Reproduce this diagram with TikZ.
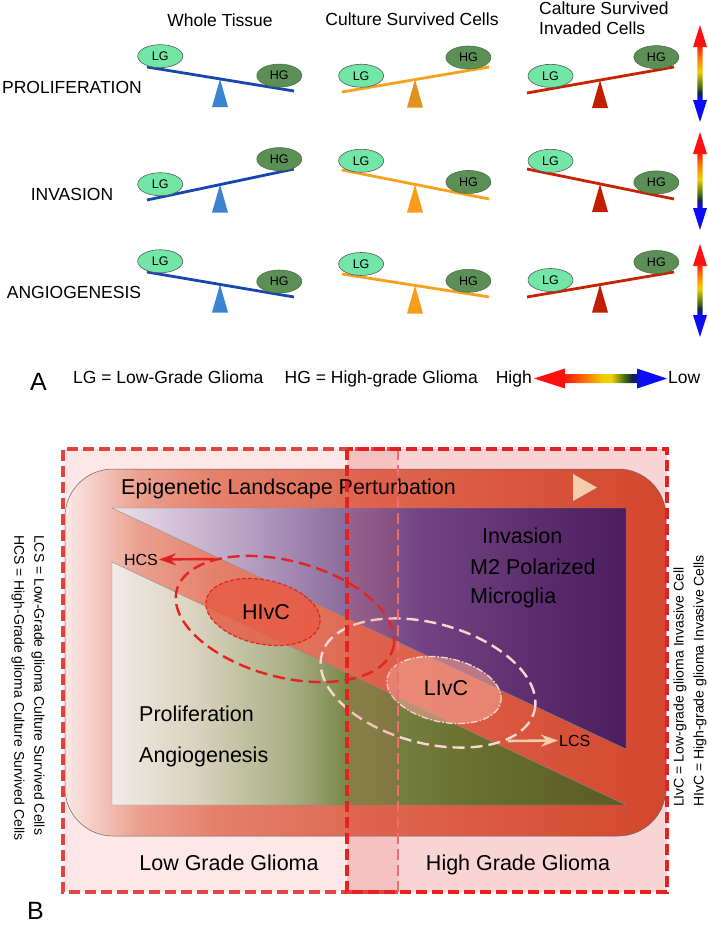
\documentclass[tikz,border=0pt]{standalone}
\usepackage{fontspec}
\setmainfont{Liberation Sans}
\usepackage{tikz}
\usetikzlibrary{positioning, arrows.meta, shapes.geometric, calc}

% panel A colours
\definecolor{lgMint}{HTML}{72E6A6}
\definecolor{hgGreen}{HTML}{5B8F55}
\definecolor{beamBlue}{HTML}{1747AE}
\definecolor{fulBlue}{HTML}{3A84D2}
\definecolor{beamOrange}{HTML}{F7A11E}
\definecolor{fulOrangeD}{HTML}{E3911F}
\definecolor{fulOrange}{HTML}{F99C19}
\definecolor{beamRed}{HTML}{C92200}
\definecolor{fulRed}{HTML}{C21F00}
\definecolor{gRed}{HTML}{FF1010}
\definecolor{gOrange}{HTML}{FF7A00}
\definecolor{gYellow}{HTML}{F2D000}
\definecolor{gGreen}{HTML}{3F6E12}
\definecolor{gDark}{HTML}{12224A}
\definecolor{gBlue}{HTML}{0C0CF5}
% panel B colours
\definecolor{lggBack}{HTML}{FDE7E7}
\definecolor{hggBack}{HTML}{F9D4D4}
\definecolor{stripRed}{HTML}{E63C3C}
\definecolor{dashRed}{HTML}{E42222}
\definecolor{dashSoft}{HTML}{E24444}
\definecolor{dashPale}{HTML}{EC6E6E}
\definecolor{epiA}{HTML}{FBE9E6}
\definecolor{epiB}{HTML}{EBA191}
\definecolor{epiC}{HTML}{E4806B}
\definecolor{epiD}{HTML}{DC6048}
\definecolor{epiE}{HTML}{D4462E}
\definecolor{purA}{HTML}{EBE0EA}
\definecolor{purB}{HTML}{B9A3C4}
\definecolor{purC}{HTML}{8C6C9C}
\definecolor{purD}{HTML}{724483}
\definecolor{purE}{HTML}{4B1C5E}
\definecolor{oliA}{HTML}{F2EAE6}
\definecolor{oliB}{HTML}{D8D2BC}
\definecolor{oliC}{HTML}{A8AE84}
\definecolor{oliD}{HTML}{7D8A4C}
\definecolor{oliE}{HTML}{68702F}
\definecolor{oliF}{HTML}{5B5A24}
\definecolor{peach}{HTML}{F4CDAE}
\definecolor{palePink}{HTML}{F9D6CE}
\definecolor{hivcFill}{HTML}{E85A44}
\definecolor{livcFill}{HTML}{F2A392}
\definecolor{arrowRed}{HTML}{E22020}

\pgfdeclareverticalshading{lowhigh}{100bp}{color(0bp)=(gBlue); color(37bp)=(gBlue); color(40bp)=(gDark); color(43bp)=(gGreen); color(51bp)=(gYellow); color(58bp)=(gOrange); color(65bp)=(gRed); color(100bp)=(gRed)}
\pgfdeclarehorizontalshading{highlow}{100bp}{color(0bp)=(gRed); color(36bp)=(gRed); color(45bp)=(gOrange); color(51bp)=(gYellow); color(54bp)=(gYellow); color(59bp)=(gGreen); color(62bp)=(gDark); color(65bp)=(gBlue); color(100bp)=(gBlue)}
\pgfdeclarehorizontalshading{epiShade}{100bp}{color(0bp)=(epiA); color(25bp)=(epiA); color(31bp)=(epiB); color(37.5bp)=(epiC); color(55bp)=(epiD); color(75bp)=(epiE); color(100bp)=(epiE)}
\pgfdeclarehorizontalshading{purpShade}{100bp}{color(0bp)=(purA); color(25bp)=(purA); color(37.5bp)=(purB); color(47.5bp)=(purC); color(55bp)=(purD); color(75bp)=(purE); color(100bp)=(purE)}
\pgfdeclarehorizontalshading{oliveShade}{100bp}{color(0bp)=(oliA); color(25bp)=(oliA); color(33.5bp)=(oliB); color(42.5bp)=(oliC); color(47.5bp)=(oliD); color(60bp)=(oliE); color(75bp)=(oliF); color(100bp)=(oliF)}

\tikzset{
  headtxt/.style={inner sep=0pt, font=\fontsize{17.5}{20}\selectfont},
  bigtxt/.style={inner sep=0pt, font=\fontsize{21.5}{29}\selectfont},
  sidetxt/.style={inner sep=0pt, align=left, font=\fontsize{14}{20}\selectfont},
  smalltxt/.style={inner sep=1pt, font=\fontsize{16}{16}\selectfont},
  paneltxt/.style={inner sep=0pt, font=\fontsize{25}{25}\selectfont},
  lgnode/.style={ellipse, draw=black!65, line width=0.6pt, fill=lgMint,
    minimum width=45pt, minimum height=23pt, inner sep=0pt,
    font=\fontsize{12.5}{12.5}\selectfont},
  hgnode/.style={lgnode, draw=hgGreen!80!black, fill=hgGreen},
  beam/.style={line width=2.8pt},
  frame/.style={line width=3.2pt, dash pattern=on 11pt off 5pt},
  hcsArrow/.style={draw=arrowRed, line width=2.4pt, -{Stealth[length=17pt, width=12pt]}},
  lcsArrow/.style={draw=peach, line width=2.6pt, -{Stealth[length=17pt, width=12pt]}}
}

% #1 name, #2 left x, #3 middle y, #4 drop, #5/#6 LG/HG place, #7 beam, #8 fulcrum
\newcommand{\seesaw}[8]{%
  \coordinate (#1-l) at ({#2},{#3-(#4)});
  \coordinate (#1-r) at ({#2+147},{#3+(#4)});
  \fill[#8] ({#2+65},{#3+28}) -- ({#2+73},{#3}) -- ({#2+81},{#3+28}) -- cycle;
  \draw[beam, draw=#7] (#1-l) -- (#1-r);
  \node[lgnode] (#1-lg) at ($(#1-l)!#5!(#1-r)+(0,-13)$) {LG};
  \node[hgnode] (#1-hg) at ($(#1-l)!#6!(#1-r)+(0,-13)$) {HG};
}

\begin{document}
\begin{tikzpicture}[x=1pt, y=-1pt]
  \useasboundingbox (0,0) rectangle (708,926);

  %% ---- panel A ----
  \node[headtxt, anchor=base] (wt) at (220,27) {Whole Tissue};
  \node[headtxt, anchor=base] (csc) at (412,25) {Culture Survived Cells};
  \node[headtxt, anchor=north west, align=left] (csic) at (539,2) {Calture Survived\\Invaded Cells};

  \node[headtxt, anchor=base] (prolif) at (72,93) {PROLIFERATION};
  \node[headtxt, anchor=base] (invas) at (72,200) {INVASION};
  \node[headtxt, anchor=base] (angio) at (74,298) {ANGIOGENESIS};

  \seesaw{wt1}{147}{79}{12}{0.09}{0.90}{beamBlue}{fulBlue}
  \seesaw{cs1}{342}{79.5}{-12.5}{0.13}{0.86}{beamOrange}{fulOrangeD}
  \seesaw{ci1}{527}{80}{-13}{0.16}{0.88}{beamRed}{fulRed}
  \seesaw{wt2}{147}{184.5}{-15.5}{0.09}{0.90}{beamBlue}{fulBlue}
  \seesaw{cs2}{342}{184.5}{14.5}{0.13}{0.86}{beamOrange}{fulOrange}
  \seesaw{ci2}{527}{184}{15}{0.16}{0.88}{beamRed}{fulRed}
  \seesaw{wt3}{147}{284.5}{12.5}{0.09}{0.90}{beamBlue}{fulBlue}
  \seesaw{cs3}{342}{285.5}{11.5}{0.13}{0.86}{beamOrange}{fulOrange}
  \seesaw{ci3}{527}{284.5}{-12.5}{0.16}{0.88}{beamRed}{fulRed}

  % high / low scale arrows
  \foreach \ty/\by in {25/122, 132/230, 244/337}
    \shade[shading=lowhigh] (700,\ty) -- (707,\ty+22) -- (702.7,\ty+22) -- (702.7,\by-22)
      -- (707,\by-22) -- (700,\by) -- (693,\by-22) -- (697.3,\by-22) -- (697.3,\ty+22)
      -- (693,\ty+22) -- cycle;

  \node[paneltxt, anchor=base west] (panelA) at (30,390) {A};
  \node[headtxt, anchor=base west] (lgdef) at (73,383) {LG = Low-Grade Glioma};
  \node[headtxt, anchor=base east] (hgdef) at (478,383) {HG = High-grade Glioma};
  \node[headtxt, anchor=base east] (high) at (532,383) {High};
  \node[headtxt, anchor=base west] (low) at (668,383) {Low};
  \shade[shading=highlow] (534,378.5) -- (565,368.5) -- (565,374) -- (637,374) -- (637,368.5)
    -- (667,378.5) -- (637,388.5) -- (637,383) -- (565,383) -- (565,388.5) -- cycle;

  %% ---- panel B ----
  \fill[lggBack] (63,449) rectangle (398,892);
  \fill[hggBack] (347,449) rectangle (667,892);

  \shade[shading=epiShade, draw=black!60, line width=0.5pt, rounded corners=48pt]
    (65,469) rectangle (666,836);
  \fill[peach] (573,474) -- (597,487.5) -- (573,501) -- cycle;
  \shade[shading=purpShade, draw=black!45, line width=0.4pt] (112,508) -- (626,508) -- (626,749) -- cycle;
  \shade[shading=oliveShade, draw=black!45, line width=0.4pt] (112,562) -- (626,805) -- (112,805) -- cycle;

  \node[bigtxt, anchor=base west] (epi) at (121,494) {Epigenetic Landscape Perturbation};
  \node[bigtxt, anchor=base west] (invasion) at (482,543) {Invasion};
  \node[bigtxt, anchor=base west] (m2) at (470,574) {M2 Polarized};
  \node[bigtxt, anchor=base west] (micro) at (470,603) {Microglia};
  \node[bigtxt, anchor=base west] (prolifB) at (139,721) {Proliferation};
  \node[bigtxt, anchor=base west] (angioB) at (139,762) {Angiogenesis};

  % invasive cell clouds
  \coordinate (hivcO) at (285,619);
  \coordinate (hivcC) at (263,612);
  \coordinate (livcO) at (428,683);
  \coordinate (livcC) at (444,690);
  \draw[dashRed, line width=2.4pt, dash pattern=on 12pt off 6pt, rotate around={-15:(hivcO)}]
    (hivcO) ellipse [x radius=112pt, y radius=58pt];
  \draw[dashRed, fill=hivcFill, fill opacity=0.8, line width=1.2pt, dash pattern=on 4pt off 2pt,
    rotate around={-12:(hivcC)}] (hivcC) ellipse [x radius=58pt, y radius=32pt];
  \draw[palePink, line width=2.4pt, dash pattern=on 12pt off 6pt, rotate around={-15:(livcO)}]
    (livcO) ellipse [x radius=110pt, y radius=60pt];
  \draw[palePink, fill=livcFill, fill opacity=0.6, line width=1.3pt,
    dash pattern=on 7pt off 2pt on 1.5pt off 2pt, rotate around={-12:(livcC)}]
    (livcC) ellipse [x radius=58pt, y radius=32pt];
  \node[bigtxt, anchor=base] (hivc) at (266,619) {HIvC};
  \node[bigtxt, anchor=base] (livc) at (446,695) {LIvC};

  \coordinate (hcsTail) at (215,559);
  \node[smalltxt, anchor=base east] (hcs) at (159,565) {HCS};
  \draw[hcsArrow] (hcsTail) -- (hcs.east);
  \coordinate (lcsTail) at (508,741);
  \node[smalltxt, anchor=base west] (lcs) at (558,746) {LCS};
  \draw[lcsArrow] (lcsTail) -- (lcs.west);

  \node[bigtxt, anchor=base] (lgg) at (229,870) {Low Grade Glioma};
  \node[bigtxt, anchor=base] (hgg) at (518,870) {High Grade Glioma};

  % overlap strip and dashed frames
  \fill[stripRed, opacity=0.12] (347,449) rectangle (398,892);
  \draw[frame, dashSoft] (398,449) -- (63,449) -- (63,892) -- (398,892);
  \draw[frame, dashPale, line width=2.4pt] (398,449) -- (398,892);
  \draw[frame, dashRed] (347,449) rectangle (667,892);

  \node[sidetxt, rotate=-90, anchor=west] (csdef) at (28,535)
    {LCS = Low-Grade glioma Culture Survived Cells\\HCS = High-Grade glioma Culture Survived Cells};
  \node[sidetxt, rotate=90, anchor=west] (ivdef) at (690,807)
    {LIvC = Low-grade glioma Invasive Cell\\HIvC = High-grade glioma Invasive Cells};

  \node[paneltxt, anchor=base west] (panelB) at (27,919) {B};
\end{tikzpicture}
\end{document}
